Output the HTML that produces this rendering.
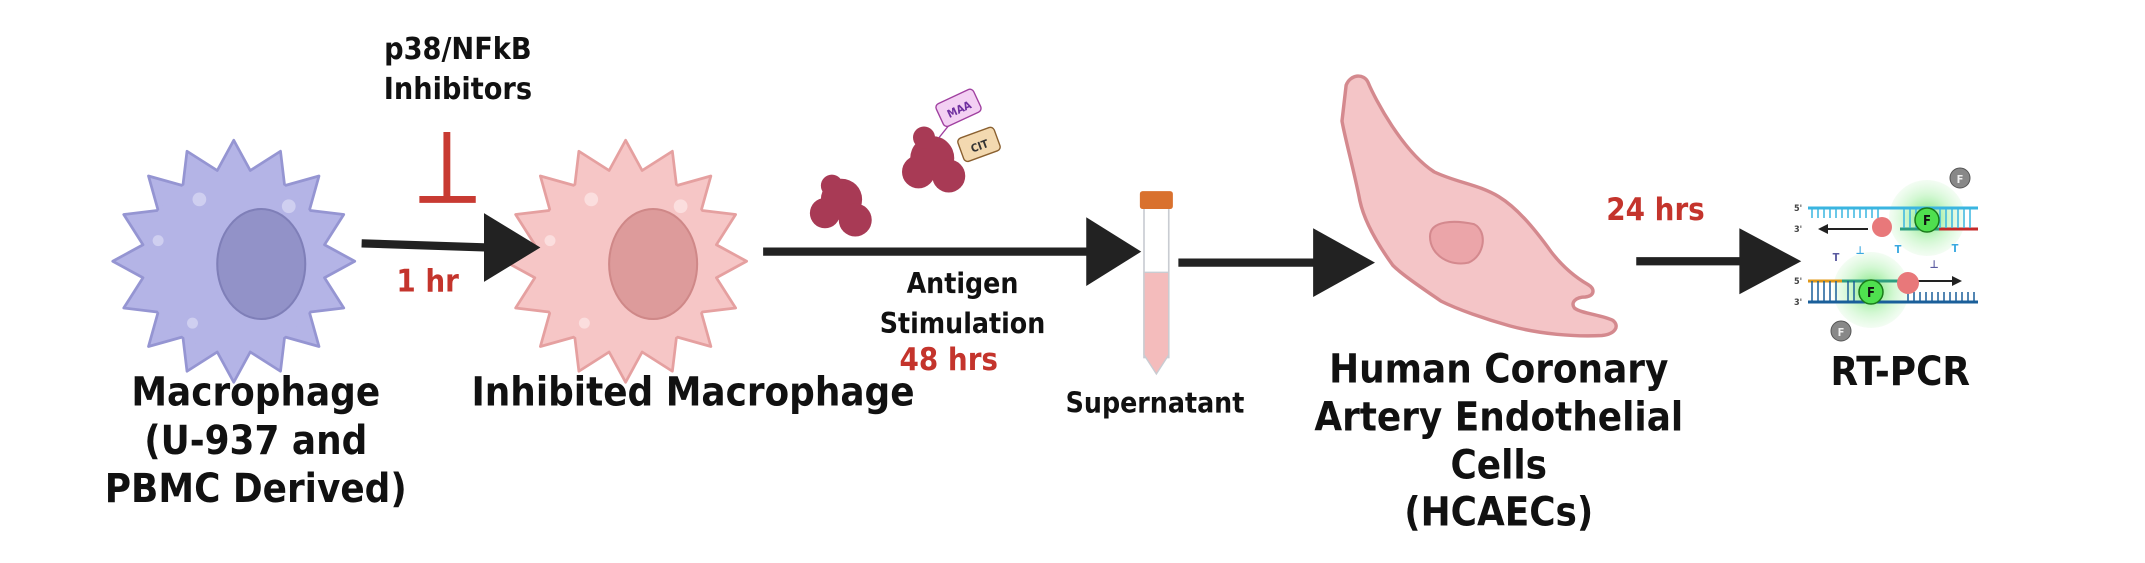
<!DOCTYPE html>
<html><head><meta charset="utf-8"><style>
html,body{margin:0;padding:0;background:#fff;}
svg{display:block;}
text{font-family:"DejaVu Sans Condensed","DejaVu Sans","Liberation Sans",sans-serif;font-weight:bold;text-anchor:middle;}
</style></head><body>
<svg width="2145" height="563" viewBox="0 0 2145 563" xmlns="http://www.w3.org/2000/svg">
<rect width="2145" height="563" fill="#fff"/>
<defs>
<polygon id="spk" points="88,0 66,12 80,34 55,37 62,62 37,55 34,80 12,66 0,88 -12,66 -34,80 -37,55 -62,62 -55,37 -80,34 -66,12 -88,0 -66,-12 -80,-34 -55,-37 -62,-62 -37,-55 -34,-80 -12,-66 0,-88 12,-66 34,-80 37,-55 62,-62 55,-37 80,-34 66,-12" stroke-linejoin="round"/>
<radialGradient id="glow"><stop offset="0" stop-color="#3fd83f" stop-opacity=".75"/><stop offset="0.6" stop-color="#8fec8f" stop-opacity=".4"/><stop offset="1" stop-color="#b0f0b0" stop-opacity=".15"/></radialGradient>
</defs>
<g transform="scale(1.375)">
<g transform="translate(170,190)">
<use href="#spk" fill="#b4b4e6" stroke="#9595d2" stroke-width="2"/>
<circle r="66" fill="#b4b4e6"/>
<ellipse cx="20" cy="2" rx="32" ry="40" fill="#9292c8" stroke="#7f7fb8" stroke-width="1.5"/>
<circle cx="-25" cy="-45" r="5" fill="#cfcff0"/><circle cx="-55" cy="-15" r="4" fill="#cfcff0"/><circle cx="40" cy="-40" r="5" fill="#cfcff0"/><circle cx="-30" cy="45" r="4" fill="#cfcff0"/>
</g>
<g transform="translate(455,190)">
<use href="#spk" fill="#f6c6c6" stroke="#e5a0a0" stroke-width="2"/>
<circle r="66" fill="#f6c6c6"/>
<ellipse cx="20" cy="2" rx="32" ry="40" fill="#dd9b9b" stroke="#cf8888" stroke-width="1.5"/>
<circle cx="-25" cy="-45" r="5" fill="#fbdede"/><circle cx="-55" cy="-15" r="4" fill="#fbdede"/><circle cx="40" cy="-40" r="5" fill="#fbdede"/><circle cx="-30" cy="45" r="4" fill="#fbdede"/>
</g>
<g font-size="29" fill="#111">
<text x="186" y="295">Macrophage</text>
<text x="186" y="330">(U-937 and</text>
<text x="186" y="365">PBMC Derived)</text>
<text x="504" y="295">Inhibited Macrophage</text>
<text x="1090" y="278">Human Coronary</text>
<text x="1090" y="313">Artery Endothelial</text>
<text x="1090" y="348">Cells</text>
<text x="1090" y="382">(HCAECs)</text>
<text x="1382" y="280">RT-PCR</text>
</g>
<g font-size="22" fill="#111">
<text x="333" y="43">p38/NFkB</text>
<text x="333" y="72">Inhibitors</text>
</g>
<g font-size="20.5" fill="#111">
<text x="700" y="213">Antigen</text>
<text x="700" y="242">Stimulation</text>
<text x="840" y="300">Supernatant</text>
</g>
<g font-size="22.5" fill="#c4342c">
<text x="311" y="212">1 hr</text>
<text x="690" y="269">48 hrs</text>
<text x="1204" y="160">24 hrs</text>
</g>
<line x1="325" y1="96" x2="325" y2="143" stroke="#c83a32" stroke-width="5"/>
<line x1="305" y1="145" x2="346" y2="145" stroke="#c83a32" stroke-width="5"/>
<g fill="#222" stroke="#222">
<line x1="263" y1="177" x2="355" y2="180" stroke-width="6"/><polygon points="352,155 393,180 352,205" stroke="none"/>
<line x1="555" y1="183" x2="795" y2="183" stroke-width="6"/><polygon points="790,158 830,183 790,208" stroke="none"/>
<line x1="857" y1="191" x2="960" y2="191" stroke-width="6"/><polygon points="955,166 1000,191 955,216" stroke="none"/>
<line x1="1190" y1="190" x2="1270" y2="190" stroke-width="6"/><polygon points="1265,166 1310,190 1265,214" stroke="none"/>
</g>
<g fill="#a83a55">
<circle cx="612" cy="145" r="15"/><circle cx="600" cy="155" r="11"/><circle cx="622" cy="160" r="12"/><circle cx="605" cy="135" r="8"/>
<circle cx="678" cy="115" r="16"/><circle cx="668" cy="125" r="12"/><circle cx="690" cy="128" r="12"/><circle cx="672" cy="100" r="8"/>
</g>
<line x1="683" y1="100" x2="695" y2="85" stroke="#a040a0" stroke-width="1"/>
<g transform="rotate(-25 698 78)"><rect x="682" y="69" width="30" height="18" rx="3" fill="#f3d0f3" stroke="#a040a0"/><text x="697" y="82" font-size="8" fill="#7030a0">MAA</text></g>
<g transform="rotate(-20 712 105)"><rect x="698" y="96" width="28" height="18" rx="3" fill="#f3d9b0" stroke="#8a6030"/><text x="712" y="109" font-size="8" fill="#333">CIT</text></g>
<rect x="832" y="146" width="18" height="114" fill="#fff" stroke="#c9ccd2" stroke-width="1.2"/>
<path d="M832,198 L850,198 L850,258 L841,272 L832,258Z" fill="#f4bcbc" stroke="#c9ccd2" stroke-width="1"/>
<rect x="829" y="139" width="24" height="13" rx="2" fill="#d9712e"/>
<path d="M979,62 C982,54 992,53 995,60 C1000,72 1020,110 1043,125 C1060,133 1075,134 1090,143 C1103,151 1115,165 1128,183 C1138,196 1148,203 1155,207 C1160,210 1160,215 1153,216 C1146,216 1142,220 1145,224 C1150,228 1165,229 1173,233 C1178,237 1175,243 1165,244 C1145,245 1120,243 1098,237 C1080,232 1060,225 1048,219 C1035,210 1020,200 1013,193 C1000,175 992,160 989,146 C985,125 978,100 976,88 Z" fill="#f4c5c7" stroke="#d4898e" stroke-width="2.5"/>
<path d="M1040,172 C1040,160 1058,160 1072,163 C1082,168 1080,186 1068,191 C1055,194 1040,186 1040,172Z" fill="#eba5a9" stroke="#d4898e" stroke-width="1.5"/>
</g>
<g>
<circle cx="1927" cy="218" r="38" fill="url(#glow)"/>
<circle cx="1871" cy="290" r="38" fill="url(#glow)"/>
<line x1="1808" y1="208" x2="1978" y2="208" stroke="#3ab5e0" stroke-width="3"/>
<line x1="1939" y1="229" x2="1978" y2="229" stroke="#c42a2a" stroke-width="3"/>
<line x1="1900" y1="229" x2="1939" y2="229" stroke="#2e9e80" stroke-width="3"/>
<path d="M1812,208 v10 M1818,208 v10 M1824,208 v10 M1830,208 v10 M1836,208 v10 M1842,208 v10 M1848,208 v10 M1854,208 v10 M1860,208 v10 M1866,208 v10 M1872,208 v10 M1878,208 v10 M1904,208 v20 M1910,208 v20 M1916,208 v20 M1940,208 v20 M1946,208 v20 M1952,208 v20 M1958,208 v20 M1964,208 v20 M1970,208 v20" stroke="#3ab5e0" stroke-width="1.5"/>
<line x1="1868" y1="229" x2="1823" y2="229" stroke="#222" stroke-width="2"/><polygon points="1818,229 1828,224 1828,234" fill="#222"/>
<circle cx="1882" cy="227" r="10" fill="#e8787a"/>
<circle cx="1927" cy="220" r="12" fill="#4fe04f" stroke="#1a7a1a" stroke-width="1.5"/>
<text x="1927" y="225" font-size="13" fill="#111">F</text>
<circle cx="1960" cy="178" r="10" fill="#888" stroke="#555"/><text x="1960" y="183" font-size="11" fill="#eee">F</text>
<line x1="1808" y1="281" x2="1842" y2="281" stroke="#e0981a" stroke-width="3"/>
<line x1="1842" y1="281" x2="1900" y2="281" stroke="#2e9e80" stroke-width="3"/>
<line x1="1808" y1="302" x2="1978" y2="302" stroke="#1a5f9a" stroke-width="3"/>
<path d="M1812,281 v20 M1818,281 v20 M1824,281 v20 M1830,281 v20 M1836,281 v20 M1848,281 v20 M1854,281 v20 M1908,292 v10 M1914,292 v10 M1920,292 v10 M1926,292 v10 M1932,292 v10 M1938,292 v10 M1944,292 v10 M1950,292 v10 M1956,292 v10 M1962,292 v10 M1968,292 v10 M1974,292 v10" stroke="#1a5f9a" stroke-width="1.5"/>
<line x1="1915" y1="281" x2="1955" y2="281" stroke="#222" stroke-width="2"/><polygon points="1962,281 1952,276 1952,286" fill="#222"/>
<circle cx="1908" cy="283" r="11" fill="#e8787a"/>
<circle cx="1871" cy="292" r="12" fill="#4fe04f" stroke="#1a7a1a" stroke-width="1.5"/>
<text x="1871" y="297" font-size="13" fill="#111">F</text>
<circle cx="1841" cy="331" r="10" fill="#888" stroke="#555"/><text x="1841" y="336" font-size="11" fill="#eee">F</text>
<g font-size="9" fill="#444" font-weight="normal"><text x="1798" y="211">5'</text><text x="1798" y="232">3'</text><text x="1798" y="284">5'</text><text x="1798" y="305">3'</text></g>
<g font-size="11" fill="#5a5aa0"><text x="1836" y="261">T</text><text x="1934" y="268">⊥</text></g>
<g font-size="11" fill="#3aa8e0"><text x="1860" y="254">⊥</text><text x="1898" y="253">T</text><text x="1955" y="252">T</text></g>
</g>
</svg>
</body></html>
